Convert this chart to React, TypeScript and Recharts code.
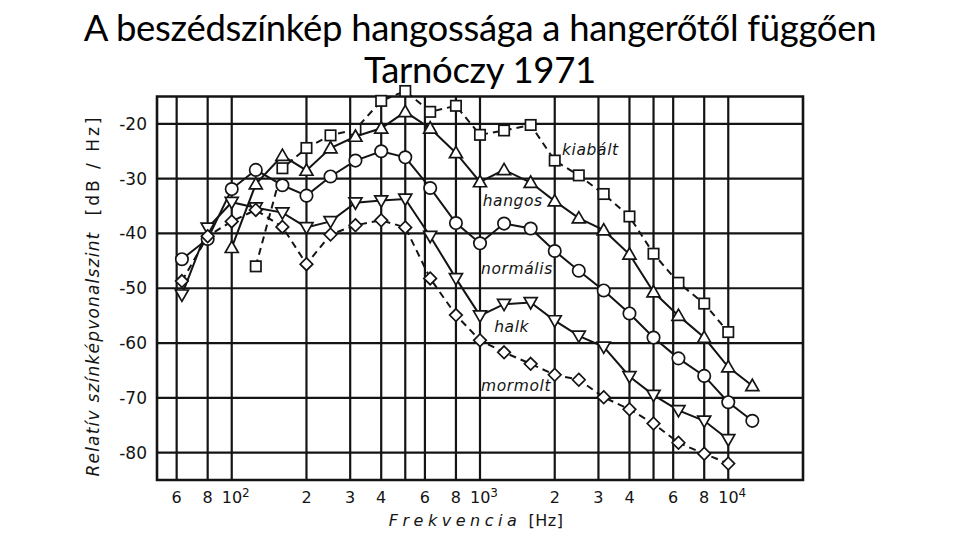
import { LineChart, Line, XAxis, YAxis, ReferenceLine, ReferenceArea, ReferenceDot } from 'recharts';

// third-octave band centres (Hz)
const freqs = [63, 80, 100, 125, 160, 200, 250, 315, 400, 500, 630, 800, 1000, 1250, 1600, 2000, 2500, 3150, 4000, 5000, 6300, 8000, 10000, 12500];

const kiabalt = [null, null, null, -46, -28.1, -24.4, -22.1, -21.0, -15.8, -14.0, -17.8, -16.7, -22.0, -21.2, -20.2, -26.7, -29.4, -32.8, -36.9, -43.7, -49.0, -52.8, -58.0, null];
const hangos = [null, null, -42.6, -31.0, -25.8, -28.5, -24.4, -22.3, -20.8, -17.8, -20.8, -25.3, -30.6, -28.4, -30.7, -34.1, -37.2, -39.4, -43.8, -50.7, -55.0, -59.0, -64.4, -67.8];
const normalis = [-44.7, -41.0, -31.9, -28.4, -31.2, -33.1, -29.6, -26.7, -25.0, -26.1, -31.7, -38.1, -41.8, -38.2, -39.1, -43.2, -46.8, -50.4, -54.6, -59.0, -62.8, -66.0, -70.8, -74.2];
const halk = [-51.2, -39.0, -34.3, -35.3, -36.2, -38.9, -37.8, -34.4, -34.0, -33.7, -40.5, -48.2, -55.0, -52.9, -52.6, -55.9, -58.7, -60.7, -66.1, -69.5, -72.3, -74.2, -77.6, null];
const mormolt = [-48.7, -40.5, -37.8, -35.7, -38.8, -45.6, -40.2, -38.5, -37.6, -38.9, -48.2, -54.9, -59.5, -61.7, -63.8, -65.8, -66.7, -69.9, -72.1, -74.7, -78.2, -80.2, -82.0, null];

const xTicks = [60, 80, 100, 200, 300, 400, 500, 600, 800, 1000, 2000, 3000, 4000, 5000, 6000, 8000, 10000];
const xTickText: Record<number, [string, string]> = {
  60: ['6', ''], 80: ['8', ''], 100: ['10', '2'], 200: ['2', ''], 300: ['3', ''], 400: ['4', ''],
  500: ['', ''], 600: ['6', ''], 800: ['8', ''], 1000: ['10', '3'], 2000: ['2', ''], 3000: ['3', ''],
  4000: ['4', ''], 5000: ['', ''], 6000: ['6', ''], 8000: ['8', ''], 10000: ['10', '4'],
};
const yTicks = [-80, -70, -60, -50, -40, -30, -20];

// curve names written inside the plot, anchored at (Hz, dB)
const curveLabels = [
  { name: 'kiabált', f: 2140, db: -24.7 },
  { name: 'hangos', f: 1025, db: -34.0 },
  { name: 'normális', f: 1010, db: -46.5 },
  { name: 'halk', f: 1140, db: -57.0 },
  { name: 'mormolt', f: 1010, db: -67.9 },
];

const data = freqs.map((f, i) => ({
  f,
  kiabalt: kiabalt[i],
  hangos: hangos[i],
  normalis: normalis[i],
  halk: halk[i],
  mormolt: mormolt[i],
}));

const INK = '#141414';
const FONT = '"DejaVu Sans", sans-serif';

const marker = (kind: string) => (p: any) => {
  const { cx, cy, index } = p;
  if (cx == null || cy == null || p.value == null) return <g key={index} />;
  const s = { fill: '#fff', stroke: INK, strokeWidth: 1.7 };
  if (kind === 'circle') return <circle key={index} cx={cx} cy={cy} r={6.2} {...s} />;
  if (kind === 'square') return <rect key={index} x={cx - 5.2} y={cy - 5.2} width={10.4} height={10.4} {...s} />;
  if (kind === 'up')
    return <polygon key={index} points={`${cx},${cy - 6.5} ${cx + 6.5},${cy + 4.8} ${cx - 6.5},${cy + 4.8}`} {...s} />;
  if (kind === 'down')
    return <polygon key={index} points={`${cx},${cy + 6.5} ${cx + 6.5},${cy - 4.8} ${cx - 6.5},${cy - 4.8}`} {...s} />;
  return <polygon key={index} points={`${cx},${cy - 6.3} ${cx + 6.3},${cy} ${cx},${cy + 6.3} ${cx - 6.3},${cy}`} {...s} />;
};

const XTick = (p: any) => {
  const v = p.payload.value as number;
  const [main, sup] = xTickText[v] || ['', ''];
  if (!main) return <g />;
  if (sup) {
    return (
      <text x={p.x - 10} y={p.y + 15} fontFamily={FONT} fontSize={16} fill={INK} textAnchor="start">
        {main}
        <tspan dy={-6} fontSize={12}>{sup}</tspan>
      </text>
    );
  }
  return (
    <text x={p.x} y={p.y + 15} fontFamily={FONT} fontSize={16} fill={INK} textAnchor="middle">
      {main}
    </text>
  );
};

const YTick = (p: any) => (
  <text x={p.x - 2} y={p.y + 6} fontFamily={FONT} fontSize={17} fill={INK} textAnchor="end">
    {p.payload.value}
  </text>
);

const YLabel = () => (
  <g fontFamily={FONT} fill={INK} fontSize={17}>
    <text x={93} y={354} transform="rotate(-90 93 354)" textAnchor="middle" dominantBaseline="central" fontStyle="italic" letterSpacing={1.2}>
      Relatív színképvonalszint
    </text>
    <text x={93} y={165} transform="rotate(-90 93 165)" textAnchor="middle" dominantBaseline="central" letterSpacing={3}>
      [dB / Hz]
    </text>
  </g>
);

const XLabel = () => (
  <g fontFamily={FONT} fill={INK} fontSize={16}>
    <text x={455} y={526} textAnchor="middle" fontStyle="italic" letterSpacing={4.5}>
      Frekvencia
    </text>
    <text x={546} y={526} textAnchor="middle" letterSpacing={0.5}>
      [Hz]
    </text>
  </g>
);

export default function App() {
  return (
    <div style={{ position: 'absolute', left: 0, top: 0, width: 960, height: 540, background: '#fff' }}>
      <div
        style={{
          position: 'absolute', left: 0, top: 6, width: 960, textAlign: 'center',
          fontFamily: 'Lato, sans-serif', fontSize: 36.5, lineHeight: '42px', color: '#000', zIndex: 2,
          letterSpacing: -0.3,
        }}
      >
        A beszédszínkép hangossága a hangerőtől függően
        <br />
        Tarnóczy 1971
      </div>
      <LineChart width={960} height={540} data={data} margin={{ top: 91, right: 157, bottom: 10, left: 97 }}>
        <XAxis
          dataKey="f" type="number" scale="log" domain={[50, 20000]} ticks={xTicks}
          axisLine={false} tickLine={false} tick={<XTick />} height={50} interval={0}
          label={<XLabel />}
        />
        <YAxis
          type="number" domain={[-85, -14]} ticks={yTicks} axisLine={false} tickLine={false}
          tick={<YTick />} width={60} interval={0} label={<YLabel />}
        />
        {yTicks.map((v) => (
          <ReferenceLine key={'h' + v} y={v} stroke={INK} strokeWidth={2.2} />
        ))}
        {xTicks.map((v) => (
          <ReferenceLine key={'v' + v} segment={[{ x: v, y: -85 }, { x: v, y: -15 }]} stroke={INK} strokeWidth={2.2} />
        ))}
        <ReferenceArea x1={50} x2={20000} y1={-85} y2={-15} fill="none" fillOpacity={0} stroke={INK} strokeWidth={2.6} />
        {curveLabels.map((c) => (
          <ReferenceDot
            key={c.name} x={c.f} y={c.db} r={0}
            shape={(p: any) => (
              <text x={p.cx} y={p.cy} dy={5} fontFamily={FONT} fontStyle="italic" fontSize={15.5} fill={INK} letterSpacing={0.6}>
                {c.name}
              </text>
            )}
          />
        ))}
        <Line dataKey="kiabalt" stroke={INK} strokeWidth={2} strokeDasharray="7 5" dot={marker('square')} isAnimationActive={false} />
        <Line dataKey="hangos" stroke={INK} strokeWidth={2} dot={marker('up')} isAnimationActive={false} />
        <Line dataKey="normalis" stroke={INK} strokeWidth={2} dot={marker('circle')} isAnimationActive={false} />
        <Line dataKey="halk" stroke={INK} strokeWidth={2} dot={marker('down')} isAnimationActive={false} />
        <Line dataKey="mormolt" stroke={INK} strokeWidth={2} strokeDasharray="7 5" dot={marker('diamond')} isAnimationActive={false} />
      </LineChart>
    </div>
  );
}
